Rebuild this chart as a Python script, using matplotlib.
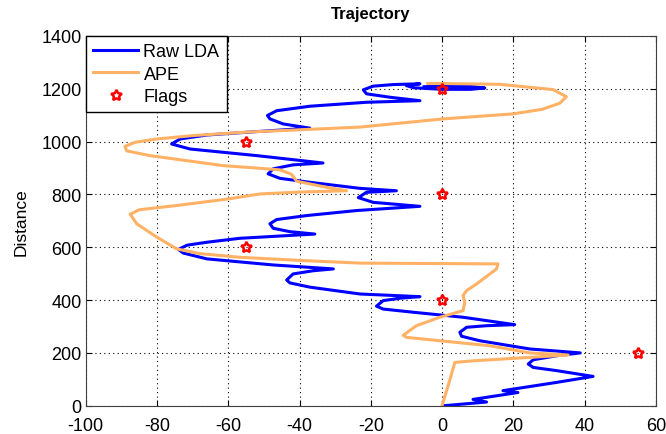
import matplotlib
matplotlib.use("Agg")
import matplotlib.pyplot as plt

plt.rcParams['font.family'] = ['Liberation Sans', 'DejaVu Sans']
plt.rcParams['axes.unicode_minus'] = False

# Raw LDA track (x offset, distance)
lda_x = [0.5, 12.5, 8.7, 21.3, 17.1, 32, 42.4,
         32.1, 25.6, 24.2, 25.6, 32.1, 38.8,
         24.6, 10.6, 5.5, 5, 6.9, 12.5, 20.4,
         5.9, -8.1, -16.5, -18.4, -16.5, -11.8, -6.2,
         -23, -37.1, -42.7, -43.6, -41.8, -36.2, -30.5,
         -47.4, -66, -72.6, -74, -71.5, -66, -56.7, -35.7,
         -42.7, -47.4, -48.3, -46.4, -38, -24, -6.2,
         -19.3, -23.5, -21.2, -12.8,
         -23, -37.1, -45.5, -48.8, -47.4, -41.8, -33.4,
         -52, -70.7, -75.9, -73.5, -66, -52, -37.1,
         -44.6, -48.3, -49, -46.4, -37.1, -21.2, -6.2,
         -14.6, -21.2, -22.1, -19.3, -13.7, -6.2,
         -10, -8, 0, 8, 12, 8, 0, -5]
lda_y = [0, 14, 24, 50, 57, 88, 111,
         133, 145, 158, 174, 189, 200,
         215, 246, 263, 278, 297, 303, 307,
         335, 354, 366, 377, 398, 407, 413,
         423, 449, 465, 476, 499, 511, 518,
         533, 556, 578, 592, 608, 619, 634, 650,
         659, 672, 689, 705, 720, 739, 755,
         770, 788, 808, 814,
         823, 846, 861, 878, 897, 912, 919,
         947, 972, 991, 1010, 1025, 1038, 1051,
         1067, 1086, 1099, 1117, 1134, 1149, 1155,
         1168, 1181, 1196, 1210, 1216, 1219,
         1212, 1204, 1198, 1198, 1203, 1209, 1210, 1208]

# APE track
ape_x = [0, 1.8, 3.6, 8.7, 24.6, 35.4, 24.6, 13.4, -0.6, -10, -10.9,
         -7.2, -0.6, 5.9, 6.4, 5.9, 6.9, 9.7, 15.3, 15.7,
         -23, -38, -56.7, -68, -74.5, -80, -85.7, -87.5, -85, -74.5,
         -60, -51, -40, -26.8, -32.4, -40.8, -42.2, -45.5, -51, -61.4,
         -82, -88.5, -89, -86, -80, -69.8, -54.8, -23, 0.3, 19.9,
         28, 33, 34.9, 31.2, 16.2, 0, -4]
ape_y = [0, 80, 164, 170, 183, 192, 200, 227, 246, 259, 267,
         303, 335, 360, 392, 417, 436, 461, 518, 537,
         540, 549, 562, 576, 594, 638, 689, 725, 742, 758,
         783, 802, 809, 814, 827, 850, 876, 893, 899, 909,
         947, 965, 982, 998, 1010, 1023, 1036, 1055, 1086, 1105,
         1122, 1145, 1170, 1197, 1217, 1220, 1220]

# flagged positions
flag_x = [0, -55, 0, -55, 0, 55]
flag_y = [1200, 1000, 800, 600, 400, 200]

fig = plt.figure(figsize=(6.66, 4.35), dpi=100)
ax = fig.add_axes([0.1287, 0.065, 0.856, 0.85])

ax.plot(lda_x, lda_y, color='#0000ff', lw=2.2, label='Raw LDA')
ax.plot(ape_x, ape_y, color='#ffb266', lw=2.2, label='APE')
ax.plot(flag_x, flag_y, linestyle='none', marker=(5, 1, 0), markersize=8,
        markerfacecolor='none', markeredgecolor='red', markeredgewidth=1.8,
        label='Flags')

ax.set_xlim(-100, 60)
ax.set_ylim(0, 1400)
ax.set_xticks(range(-100, 61, 20))
ax.set_yticks(range(0, 1401, 200))
ax.tick_params(direction='in', top=True, right=True, length=4,
               labelsize=13, pad=3)
ax.tick_params(axis='x', pad=8)
ax.grid(True, color='black', linestyle=(0, (1, 3)), linewidth=0.8)
for s in ax.spines.values():
    s.set_color('#404040')

ax.set_title('Trajectory', fontsize=12, fontweight='bold', pad=13)
ax.set_ylabel('Distance', fontsize=12.5, labelpad=9)

leg = ax.legend(loc='upper left', bbox_to_anchor=(0, 1), borderaxespad=0,
                fancybox=False, edgecolor='black', framealpha=1,
                fontsize=13, handlelength=2.5, handletextpad=0.3,
                borderpad=0.4, labelspacing=0.3)
leg.get_frame().set_linewidth(1.0)

fig.savefig('out.png', dpi=100)
